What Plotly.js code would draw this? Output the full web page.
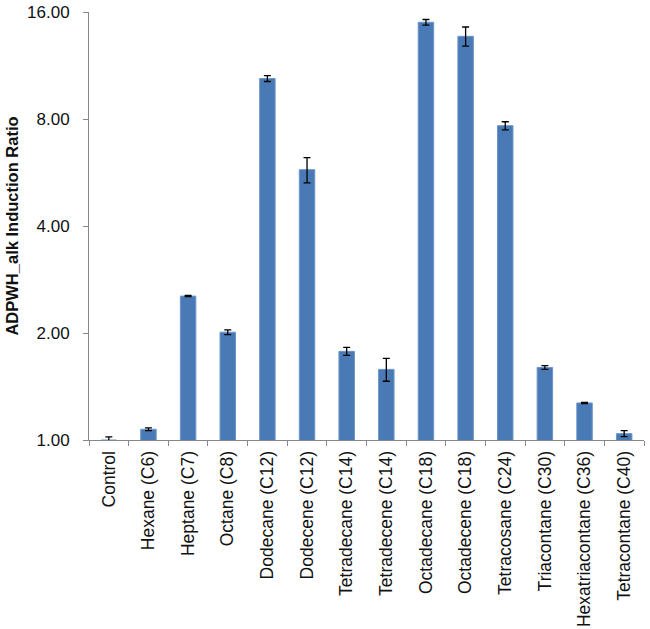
<!DOCTYPE html>
<html>
<head>
<meta charset="utf-8">
<script src="https://cdn.plot.ly/plotly-3.0.1.min.js"></script>
<style>
  body { margin: 0; background: #fff; }
  #chart { width: 650px; height: 629px; }
</style>
</head>
<body>
<div id="chart"></div>
<script>
// values (log2 scale)
var categories = ['Control', 'Hexane (C6)', 'Heptane (C7)', 'Octane (C8)', 'Dodecane (C12)',
  'Dodecene (C12)', 'Tetradecane (C14)', 'Tetradecene (C14)', 'Octadecane (C18)',
  'Octadecene (C18)', 'Tetracosane (C24)', 'Triacontane (C30)', 'Hexatriacontane (C36)',
  'Tetracontane (C40)'];
var ratios = [1.0, 1.072, 2.54, 2.01, 10.4, 5.76, 1.776, 1.58, 14.97, 13.67, 7.66, 1.60, 1.271, 1.042];
var errors = [0.02, 0.01, 0.01, 0.03, 0.2, 0.47, 0.045, 0.117, 0.27, 0.85, 0.2, 0.02, 0.005, 0.02];
var tickVals = [1, 2, 4, 8, 16];
var tickText = ['1.00', '2.00', '4.00', '8.00', '16.00'];

var trace = {
  type: 'bar',
  x: categories,
  y: ratios,
  marker: {color: '#4a7ab5', line: {color: '#6a95c8', width: 1}},
  error_y: {type: 'data', array: errors, visible: true, color: '#000', thickness: 1.3, width: 3.5}
};

var layout = {
  width: 650,
  height: 629,
  margin: {l: 89, r: 6, t: 12, b: 189},
  paper_bgcolor: '#fff',
  plot_bgcolor: '#fff',
  showlegend: false,
  bargap: 0.61,
  font: {family: 'Liberation Sans, Arial, sans-serif', color: '#111'},
  xaxis: {
    type: 'category',
    tickangle: -90,
    tickson: 'boundaries',
    ticks: 'outside',
    ticklen: 5,
    tickcolor: '#888',
    showline: true,
    linecolor: '#888',
    linewidth: 1,
    showgrid: false,
    ticklabelstandoff: 3,
    tickfont: {size: 17.5, color: '#111'}
  },
  yaxis: {
    type: 'log',
    range: [0, Math.log10(16)],
    tickvals: tickVals,
    ticktext: tickText,
    ticks: 'outside',
    ticklen: 5,
    tickcolor: '#888',
    showline: true,
    linecolor: '#888',
    linewidth: 1,
    showgrid: false,
    zeroline: false,
    ticklabelstandoff: 10,
    tickfont: {size: 17, color: '#111'},
    title: {text: 'ADPWH_alk Induction Ratio', font: {size: 16.5, color: '#111', weight: 'bold'}, standoff: 4}
  }
};

Plotly.newPlot('chart', [trace], layout, {staticPlot: true});
</script>
</body>
</html>
